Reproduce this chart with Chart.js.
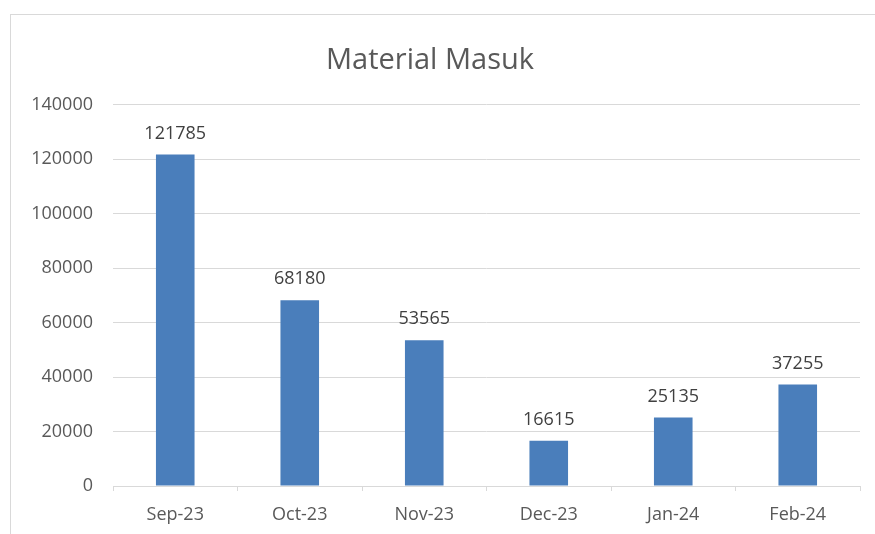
<!DOCTYPE html>
<html lang="id">
<head>
    <meta charset="UTF-8">
    <title>Material Masuk</title>
    <script src="https://cdn.jsdelivr.net/npm/chart.js"></script>
    <style>
        body {
            margin: 0;
            background: white;
            overflow: hidden;
        }
        #frame {
            position: absolute;
            left: 10px;
            top: 14px;
            width: 900px;
            height: 600px;
            border: 1px solid #d9d9d9;
        }
        #wrap {
            position: absolute;
            left: 0;
            top: 0;
            width: 875px;
            height: 534px;
        }
    </style>
</head>
<body>
    <div id="frame"></div>
    <div id="wrap"><canvas id="chart" width="875" height="534"></canvas></div>
    <script>
        const months = ['Sep-23', 'Oct-23', 'Nov-23', 'Dec-23', 'Jan-24', 'Feb-24'];
        const materialMasuk = [121785, 68180, 53565, 16615, 25135, 37255];
        const yTicks = [0, 20000, 40000, 60000, 80000, 100000, 120000, 140000];

        const textColor = '#595959';
        const gridColor = '#d9d9d9';
        const fontFamily = '"Open Sans", sans-serif';

        // angka di atas batang
        const valueLabels = {
            id: 'valueLabels',
            afterDatasetsDraw(chart) {
                const c = chart.ctx;
                const meta = chart.getDatasetMeta(0);
                c.save();
                c.font = '18px ' + fontFamily;
                c.fillStyle = '#404040';
                c.textAlign = 'center';
                c.textBaseline = 'bottom';
                meta.data.forEach((bar, i) => {
                    c.fillText(String(chart.data.datasets[0].data[i]), bar.x, bar.y - 12);
                });
                c.restore();
            }
        };

        const ctx = document.getElementById('chart').getContext('2d');
        new Chart(ctx, {
            type: 'bar',
            data: {
                labels: months,
                datasets: [{
                    label: 'Material Masuk',
                    data: materialMasuk,
                    backgroundColor: '#4a7ebb',
                    categoryPercentage: 1,
                    barPercentage: 0.31
                }]
            },
            options: {
                responsive: false,
                animation: false,
                layout: { padding: { left: 0, right: 15, top: 0, bottom: 0 } },
                plugins: {
                    legend: { display: false },
                    tooltip: { enabled: false },
                    title: {
                        display: true,
                        text: 'Material Masuk',
                        color: textColor,
                        font: { family: fontFamily, size: 29, weight: 'normal' },
                        padding: { top: 43, bottom: 27 }
                    }
                },
                scales: {
                    x: {
                        grid: {
                            offset: true,
                            drawOnChartArea: false,
                            drawTicks: true,
                            tickLength: 5,
                            color: gridColor
                        },
                        border: { display: true, color: gridColor },
                        ticks: {
                            color: textColor,
                            font: { family: fontFamily, size: 18 },
                            padding: 13
                        },
                        afterFit(scale) { scale.height = 48; }
                    },
                    y: {
                        min: 0,
                        max: 140000,
                        afterBuildTicks(scale) {
                            scale.ticks = yTicks.map(v => ({ value: v }));
                        },
                        grid: { color: gridColor, drawTicks: false },
                        border: { display: false },
                        ticks: {
                            color: textColor,
                            font: { family: fontFamily, size: 18 },
                            padding: 20,
                            callback: value => String(value)
                        },
                        afterFit(scale) { scale.width = 113; }
                    }
                }
            },
            plugins: [valueLabels]
        });
    </script>
</body>
</html>
